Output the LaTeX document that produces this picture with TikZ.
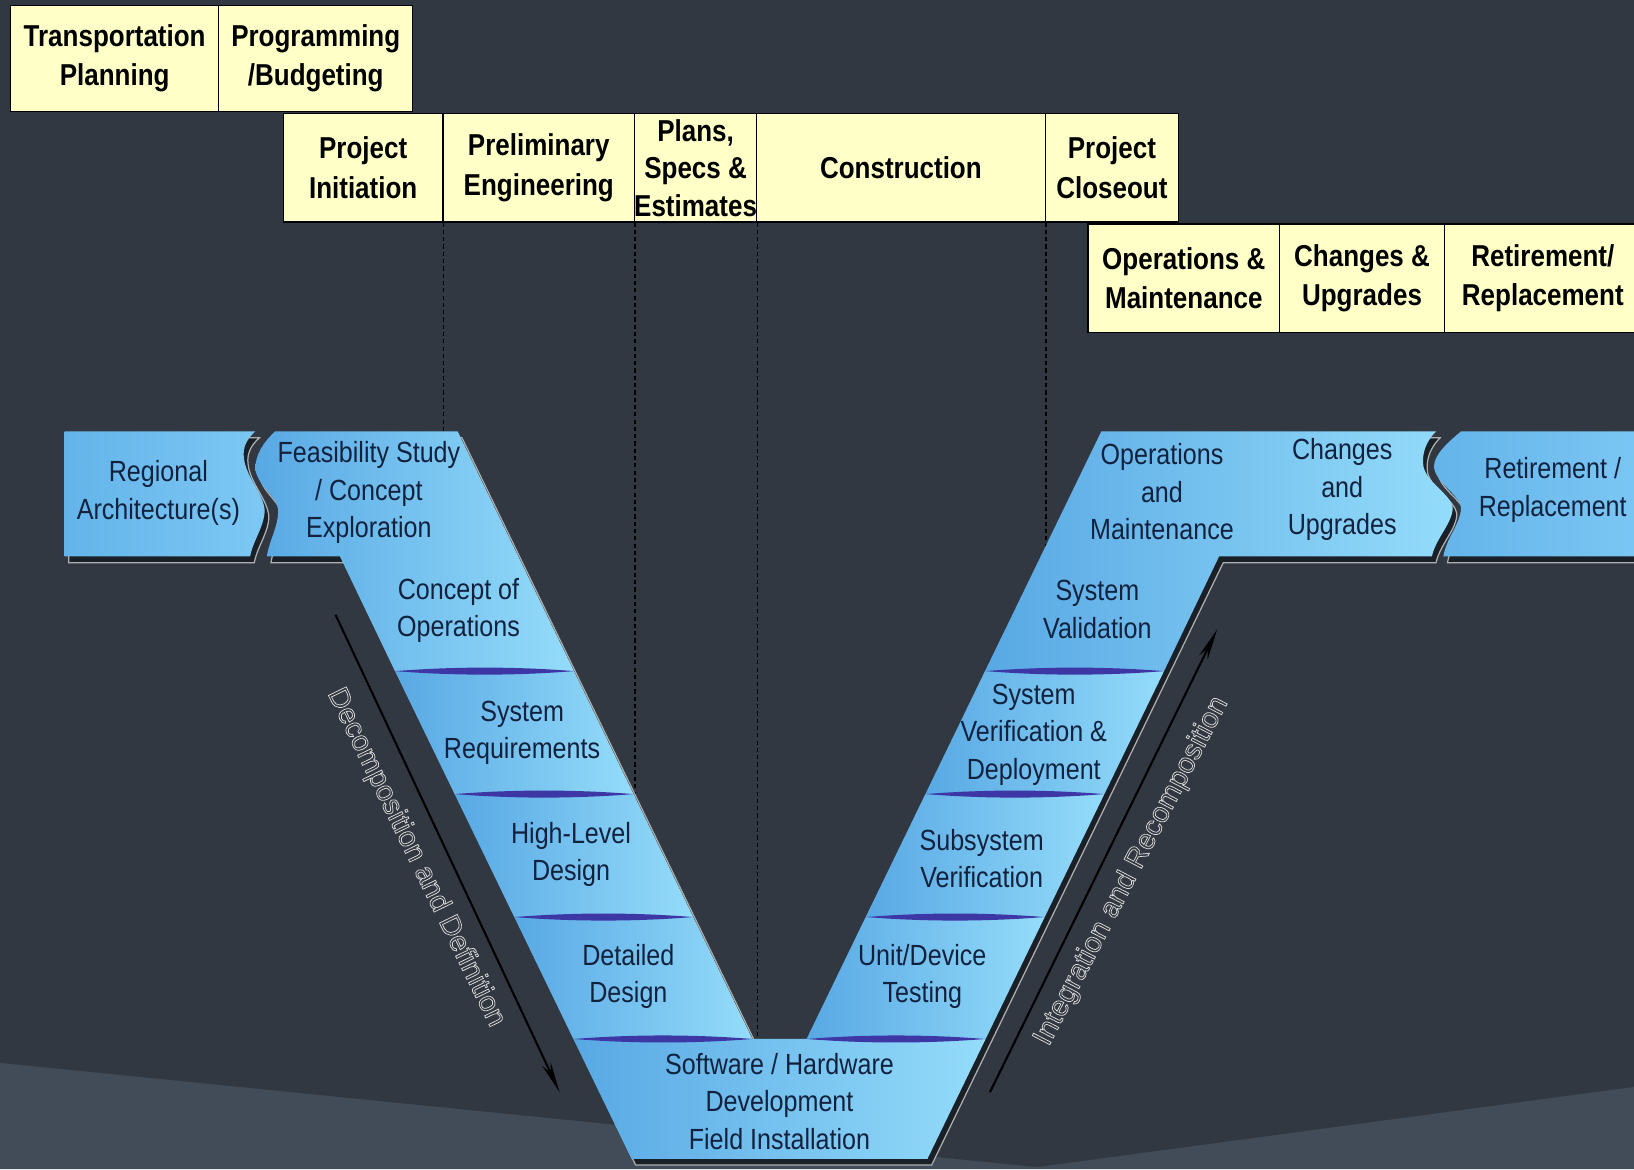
\documentclass[tikz,border=0pt]{standalone}
\usepackage{fontspec}
\usetikzlibrary{arrows.meta}
\newfontfamily\tbfont[FakeStretch=0.86]{Liberation Sans}
\newfontfamily\vfont[FakeStretch=0.86]{Liberation Sans}
\newfontfamily\arfont{Liberation Sans}
\definecolor{bgdark}{RGB}{50,56,65}
\definecolor{bglight}{RGB}{66,76,88}
\definecolor{boxyellow}{RGB}{255,255,200}
\definecolor{vdark}{RGB}{88,168,228}
\definecolor{vlight}{RGB}{148,220,250}
\definecolor{vmid}{RGB}{100,180,234}
\definecolor{vmidl}{RGB}{125,200,244}
\definecolor{vtext}{RGB}{18,34,62}
\definecolor{sepblue}{RGB}{60,55,165}
\definecolor{shdark}{RGB}{26,32,40}
\definecolor{shlight}{RGB}{175,175,175}
\definecolor{outl}{RGB}{220,220,220}
\newcommand\hollow[1]{\textcolor{outl}{\special{pdf:literal direct 1 Tr 0.7 w}#1\special{pdf:literal direct 0 Tr}}}
\newcommand\vlens[3]{\fill[sepline] (#2,#1) .. controls ({#2+(#3-#2)/3},{#1-4.5}) and ({#3-(#3-#2)/3},{#1-4.5}) .. (#3,#1) .. controls ({#3-(#3-#2)/3},{#1+4.5}) and ({#2+(#3-#2)/3},{#1+4.5}) .. (#2,#1) -- cycle;}
\begin{document}
\begin{tikzpicture}[x=1pt,y=-1pt,
  topbox/.style={draw=black, line width=1.2pt, fill=boxyellow, inner sep=0pt, align=center, text=black, font=\tbfont\bfseries\fontsize{29}{38}\selectfont},
  vlabel/.style={inner sep=0pt, align=center, text=vtext, font=\vfont\fontsize{28}{36}\selectfont},
  vpiece/.style={left color=vdark, right color=vlight},
  endpiece/.style={left color=vmid, right color=vmidl},
  vshadow/.style={fill=shdark, draw=shlight, line width=1.2pt},
  sepline/.style={fill=sepblue},
  guide/.style={draw=black, line width=1.6pt, dash pattern=on 4pt off 3pt},
  flow/.style={draw=black, line width=2pt, -{Stealth[length=30pt,width=9pt]}},
  arrlabel/.style={inner sep=0pt, font=\arfont\fontsize{27.5}{30}\selectfont}
]
\useasboundingbox (0,0) rectangle (1568,1122);
\fill[bgdark] (0,0) rectangle (1568,1122);
\fill[bglight] (0,1020) -- (995,1120) -- (1568,1043) -- (1568,1122) -- (0,1122) -- cycle;

% top phase boxes
\node[topbox, minimum width=200pt, minimum height=102pt] (tp) at (110,56) {Transportation\\Planning};
\node[topbox, minimum width=186pt, minimum height=102pt] (pb) at (303,56) {Programming\\/Budgeting};
\node[topbox, minimum width=153pt, minimum height=104pt] (pi) at (348.5,161) {Project\\Initiation};
\node[topbox, minimum width=184pt, minimum height=104pt] (pe) at (517,161) {Preliminary\\Engineering};
\node[topbox, minimum width=117pt, minimum height=104pt, font=\tbfont\bfseries\fontsize{29}{36}\selectfont] (pse) at (667.5,161) {Plans,\\Specs \&\\Estimates};
\node[topbox, minimum width=277pt, minimum height=104pt] (con) at (864.5,161) {Construction};
\node[topbox, minimum width=128pt, minimum height=104pt] (pc) at (1067,161) {Project\\Closeout};
\node[topbox, minimum width=184pt, minimum height=104pt] (om) at (1136,267) {Operations \&\\Maintenance};
\node[topbox, minimum width=158pt, minimum height=104pt] (cu) at (1307,267) {Changes \&\\Upgrades};
\node[topbox, minimum width=189pt, minimum height=104pt] (rr) at (1480.5,267) {Retirement/\\Replacement};

% dashed guides
\coordinate (g1) at (425,414);
\coordinate (g2) at (609,762);
\coordinate (g3) at (726,997);
\coordinate (g4) at (1003,525);
\draw[guide] (pi.south east) -- (pi.south east |- g1);
\draw[guide] (pe.south east) -- (pe.south east |- g2);
\draw[guide] (pse.south east) -- (pse.south east |- g3);
\draw[guide] (con.south east) -- (con.south east |- g4);

% shadows
\begin{scope}[shift={(4,6)}]
\path[vshadow] (62,414) -- (245,414) .. controls (236,422) and (233,430) .. (234,439) .. controls (236,458) and (252,472) .. (254,489) .. controls (254,505) and (243,518) .. (240,534) -- (62,534) -- cycle;
\path[vshadow] (264,414) -- (439.2,414) -- (722,997) -- (774,997) -- (1056.8,414) -- (1378,414)
  .. controls (1368,424) and (1364,436) .. (1366,448) .. controls (1370,464) and (1392,474) .. (1394,487) .. controls (1394,502) and (1378,516) .. (1374,534)
  -- (1169.8,534) -- (890,1112) -- (606,1112) -- (326.2,534) -- (256,534)
  .. controls (258,520) and (267,505) .. (267,490) .. controls (266,476) and (247,466) .. (245,450) .. controls (245,437) and (252,425) .. (264,414) -- cycle;
\path[vshadow] (1402,414) .. controls (1390,424) and (1376,436) .. (1376,448) .. controls (1378,464) and (1400,474) .. (1402,487) .. controls (1402,502) and (1388,516) .. (1385,534) -- (1590,534) -- (1590,414) -- cycle;
\end{scope}

% V pieces
\shade[endpiece] (62,414) -- (245,414) .. controls (236,422) and (233,430) .. (234,439) .. controls (236,458) and (252,472) .. (254,489) .. controls (254,505) and (243,518) .. (240,534) -- (62,534) -- cycle;
\shade[vpiece] (264,414) -- (439.2,414) -- (550.8,644) -- (379,644) -- (326.2,534) -- (256,534)
  .. controls (258,520) and (267,505) .. (267,490) .. controls (266,476) and (247,466) .. (245,450) .. controls (245,437) and (252,425) .. (264,414) -- cycle;
\shade[vpiece] (379,644) -- (550.8,644) -- (608,762) -- (436.25,762) -- cycle;
\shade[vpiece] (436.25,762) -- (608,762) -- (665.3,880) -- (493.5,880) -- cycle;
\shade[vpiece] (493.5,880) -- (665.3,880) -- (722,997) -- (550.2,997) -- cycle;
\shade[vpiece] (550.2,997) -- (945.8,997) -- (890,1112) -- (606,1112) -- cycle;
\shade[vpiece] (774,997) -- (830.7,880) -- (1002.5,880) -- (945.8,997) -- cycle;
\shade[vpiece] (830.7,880) -- (888,762) -- (1059.75,762) -- (1002.5,880) -- cycle;
\shade[vpiece] (888,762) -- (945.2,644) -- (1117,644) -- (1059.75,762) -- cycle;
\shade[vpiece] (945.2,644) -- (1056.8,414) -- (1378,414)
  .. controls (1368,424) and (1364,436) .. (1366,448) .. controls (1370,464) and (1392,474) .. (1394,487) .. controls (1394,502) and (1378,516) .. (1374,534)
  -- (1169.8,534) -- (1117,644) -- cycle;
\shade[endpiece] (1402,414) .. controls (1390,424) and (1376,436) .. (1376,448) .. controls (1378,464) and (1400,474) .. (1402,487) .. controls (1402,502) and (1388,516) .. (1385,534) -- (1590,534) -- (1590,414) -- cycle;

% separators
\vlens{644}{379}{551}
\vlens{762}{436}{608}
\vlens{880}{493.5}{665}
\vlens{997}{550.5}{722}
\vlens{644}{945.5}{1117}
\vlens{762}{888}{1059.5}
\vlens{880}{831}{1002}
\vlens{997}{774}{945.5}

% V labels
\node[vlabel] (ra) at (152,473) {Regional\\Architecture(s)};
\node[vlabel] (fs) at (354,473) {Feasibility Study\\/ Concept\\Exploration};
\node[vlabel] (co) at (440,586) {Concept of\\Operations};
\node[vlabel] (sr) at (501,703) {System\\Requirements};
\node[vlabel] (hl) at (548,820) {High-Level\\Design};
\node[vlabel] (dd) at (603,937) {Detailed\\Design};
\node[vlabel] (sw) at (748,1057) {Software / Hardware\\Development\\Field Installation};
\node[vlabel] (ud) at (885,937) {Unit/Device\\Testing};
\node[vlabel] (sv) at (942,824) {Subsystem\\Verification};
\node[vlabel] (svd) at (992,705) {System\\Verification \&\\Deployment};
\node[vlabel] (val) at (1053,585) {System\\Validation};
\node[vlabel] (oam) at (1115,472) {Operations\\and\\Maintenance};
\node[vlabel] (cau) at (1288,470) {Changes\\and\\Upgrades};
\node[vlabel] (ret) at (1490,470) {Retirement /\\Replacement};

% arrows
\coordinate (d1) at (322,590);
\coordinate (d2) at (537,1048);
\coordinate (u1) at (950,1048);
\coordinate (u2) at (1168,604);
\draw[flow] (d1) -- (d2);
\draw[flow] (u1) -- (u2);
\node[arrlabel, rotate=-64] (dec) at (399,823) {\hollow{Decomposition and Definition}};
\node[arrlabel, rotate=62.5] (irc) at (1086,836) {\hollow{Integration and Recomposition}};
\end{tikzpicture}
\end{document}
